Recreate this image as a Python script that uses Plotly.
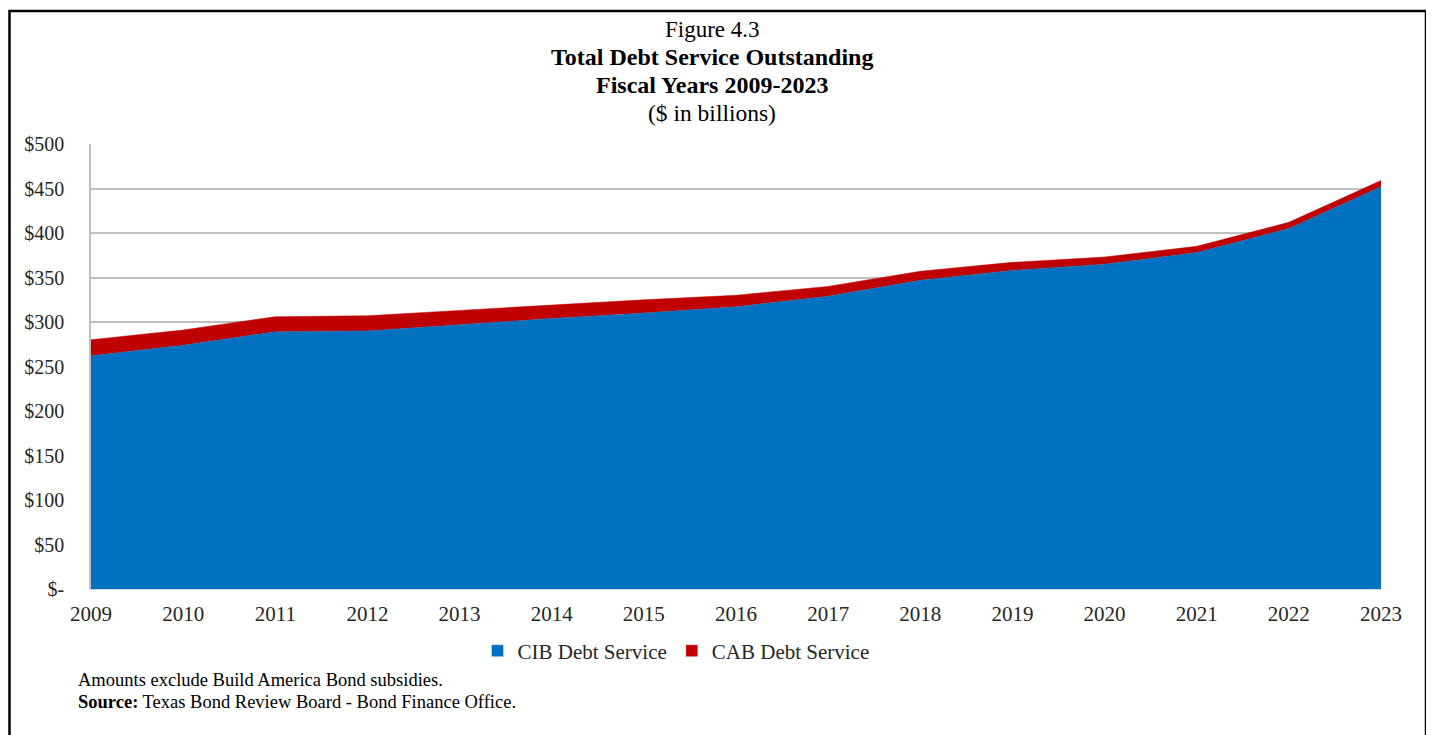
import plotly.graph_objects as go

years = [2009, 2010, 2011, 2012, 2013, 2014, 2015, 2016, 2017, 2018, 2019, 2020, 2021, 2022, 2023]
cib_debt_service = [262, 274, 289, 290, 297, 304, 310, 317, 329, 347, 358, 365, 378, 405, 452]
cab_debt_service = [18, 17, 17, 17, 16, 15, 15, 13, 11, 10, 9, 8, 7, 7, 7]
y_tick_vals = [0, 50, 100, 150, 200, 250, 300, 350, 400, 450, 500]
y_tick_text = ["$-", "$50", "$100", "$150", "$200", "$250", "$300", "$350", "$400", "$450", "$500"]
x_tick_text = [str(y) for y in years]

BLUE = "#0070C0"
RED = "#C00000"
FONT = "Liberation Serif"

fig = go.Figure()
fig.add_trace(go.Scatter(
    x=years, y=cib_debt_service, name="CIB Debt Service",
    stackgroup="one", mode="lines", showlegend=False,
    line=dict(color=BLUE, width=0.5), fillcolor=BLUE,
))
fig.add_trace(go.Scatter(
    x=years, y=cab_debt_service, name="CAB Debt Service",
    stackgroup="one", mode="lines", showlegend=False,
    line=dict(color=RED, width=0.5), fillcolor=RED,
))
# legend-only entries (square swatches like the reference)
fig.add_trace(go.Bar(x=[None], y=[None], name="CIB Debt Service", marker_color=BLUE, showlegend=True))
fig.add_trace(go.Bar(x=[None], y=[None], name="CAB Debt Service", marker_color=RED, showlegend=True))

O = 8  # page body offset
W, H = 1434, 735
# screen coordinates of the plot area
SX0, SX1, SY0, SY1 = 91, 1381, 144, 589
L, T = SX0 - O, SY0 - O
R = W - (SX1 - O)
B = H - (SY1 - O)
pw, ph = W - L - R, H - T - B

def px_x(x):
    return (x - O - L) / pw

def px_y(y):
    return (H - B - (y - O)) / ph

title_x = px_x(712)
annotations = [
    dict(text="Figure 4.3", x=title_x, y=px_y(29), font=dict(size=23)),
    dict(text="<b>Total Debt Service Outstanding</b>", x=title_x, y=px_y(57), font=dict(size=24)),
    dict(text="<b>Fiscal Years 2009-2023</b>", x=title_x, y=px_y(85), font=dict(size=24)),
    dict(text="($ in billions)", x=title_x, y=px_y(113), font=dict(size=23.5)),
]
for a in annotations:
    a.update(xref="paper", yref="paper", showarrow=False, xanchor="center", yanchor="middle")
    a["font"].update(family=FONT, color="#000000")

annotations += [
    dict(text="Amounts exclude Build America Bond subsidies.", x=px_x(76), y=px_y(680),
         xref="paper", yref="paper", showarrow=False, xanchor="left", yanchor="middle",
         font=dict(family=FONT, size=18.5, color="#000000")),
    dict(text="<b>Source:</b> Texas Bond Review Board - Bond Finance Office.", x=px_x(76), y=px_y(702),
         xref="paper", yref="paper", showarrow=False, xanchor="left", yanchor="middle",
         font=dict(family=FONT, size=18.5, color="#000000")),
]

fig.update_layout(
    width=W, height=H,
    margin=dict(l=L, r=R, t=T, b=B, pad=0),
    paper_bgcolor="white", plot_bgcolor="white",
    font=dict(family=FONT, color="#262626"),
    showlegend=True,
    legend=dict(orientation="h", x=px_x(676), y=px_y(651), xanchor="center", yanchor="middle",
                font=dict(family=FONT, size=21, color="#262626"), itemwidth=30,
                traceorder="normal", bgcolor="rgba(0,0,0,0)"),
    annotations=annotations,
    shapes=[dict(type="rect", xref="paper", yref="paper",
                 x0=px_x(O + 1.5), x1=px_x(1426), y0=px_y(780), y1=px_y(11),
                 line=dict(color="#000000", width=2.5), fillcolor="rgba(0,0,0,0)", layer="above")],
)

fig.update_xaxes(
    range=[2009, 2023], tickvals=years, ticktext=x_tick_text,
    showgrid=False, zeroline=False, showline=True, linecolor="#d9d9d9", linewidth=1,
    ticks="", tickfont=dict(family=FONT, size=21, color="#262626"),
    ticklabelstandoff=6, fixedrange=True,
)
fig.update_yaxes(
    range=[0, 500], tickvals=y_tick_vals, ticktext=y_tick_text,
    showgrid=True, gridcolor="#bfbfbf", gridwidth=1.5,
    zeroline=False, showline=True, linecolor="#bfbfbf", linewidth=1.5,
    ticks="", tickfont=dict(family=FONT, size=20, color="#262626"),
    ticklabelstandoff=21, fixedrange=True,
)

fig.write_html("out.html")
